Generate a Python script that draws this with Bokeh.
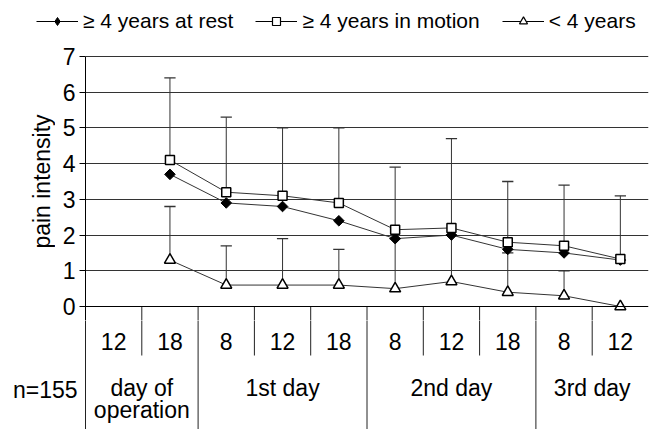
import math
from bokeh.plotting import figure
from bokeh.layouts import column, row
from bokeh.models import Range1d, FixedTicker, Span, Legend, LegendItem
from bokeh.core.properties import value
from bokeh.embed import file_html
from bokeh.resources import INLINE

nan = float("nan")

# ---- data ----
hours = ["12", "18", "8", "12", "18", "8", "12", "18", "8", "12"]
days = ["day of\noperation", "1st day", "2nd day", "3rd day"]
day_spans = [2, 3, 3, 2]
rest = [nan, 3.7, 2.9, 2.8, 2.4, 1.9, 2.0, 1.6, 1.5, 1.3]
motion = [nan, 4.1, 3.2, 3.1, 2.9, 2.15, 2.2, 1.8, 1.7, 1.33]
motion_err_top = [nan, 6.4, 5.3, 5.0, 5.0, 3.9, 4.7, 3.5, 3.4, 3.1]
under4 = [nan, 1.3, 0.6, 0.6, 0.6, 0.5, 0.7, 0.4, 0.3, 0.0]
under4_err_top = [nan, 2.8, 1.7, 1.9, 1.6, 1.9, 2.0, 1.5, 1.0, nan]
n_label = "n=155"
y_label = "pain intensity"
y_ticks = [0, 1, 2, 3, 4, 5, 6, 7]
legend_labels = ["\u2265 4 years at rest", "\u2265 4 years in motion", "< 4 years"]

FONT = "Liberation Sans"
W, H = 649, 429
LEG_H = 40            # legend strip height
CH_BOT = 320          # chart strip bottom (canvas px)
CH_H = CH_BOT - LEG_H
TAB_H = H - CH_BOT
LAB_W = 55            # y-label strip width
LEFT = 85             # frame left edge (canvas px)
RIGHT_PAD = 1
PXU = 250 / 7.0       # px per y unit (7 at y=56, 0 at y=306)
Y0PX = 306.0
NCOL = len(hours)
XPX = (W - RIGHT_PAD - LEFT) / NCOL
LINE = "#333333"
SEP = "#222222"


def py(pix):
    """canvas pixel row -> data y"""
    return (Y0PX - pix) / PXU


def bare(fig):
    fig.outline_line_color = None
    fig.grid.visible = False
    fig.background_fill_color = "white"
    fig.border_fill_color = "white"
    return fig


# ---------------- chart figure ----------------
yr = Range1d(py(CH_BOT), py(LEG_H))
p = figure(width=W - LAB_W, height=CH_H, output_backend="svg", toolbar_location=None,
           x_range=Range1d(0, NCOL), y_range=yr, x_axis_location=None,
           min_border_left=LEFT - LAB_W, min_border_right=RIGHT_PAD,
           min_border_top=0, min_border_bottom=0)
p.outline_line_color = None
p.background_fill_color = "white"
p.xgrid.visible = False
p.ygrid.ticker = FixedTicker(ticks=y_ticks[1:])
p.ygrid.grid_line_color = LINE
p.ygrid.grid_line_width = 1

ax = p.yaxis[0]
ax.ticker = FixedTicker(ticks=y_ticks)
ax.bounds = (yr.start, y_ticks[-1])
ax.axis_line_color = "black"
ax.major_tick_out = 6
ax.major_tick_in = 0
ax.minor_tick_line_color = None
ax.major_label_standoff = 4
ax.major_label_text_font = FONT
ax.major_label_text_font_size = "23px"
ax.major_label_text_color = "black"

p.add_layout(Span(location=0, dimension="width", line_color="black", line_width=1))

xs = [i + 0.5 for i in range(NCOL)]


def errbars(vals, tops):
    sx, sy0, sy1, cx0, cx1, cy = [], [], [], [], [], []
    for x, v, t in zip(xs, vals, tops):
        if math.isnan(v) or math.isnan(t):
            continue
        sx.append(x); sy0.append(v); sy1.append(t)
        cx0.append(x - 0.1); cx1.append(x + 0.1); cy.append(t)
    p.segment(x0=sx, y0=sy0, x1=sx, y1=sy1, line_color=LINE, line_width=1)
    p.segment(x0=cx0, y0=cy, x1=cx1, y1=cy, line_color=LINE, line_width=1.3)


# category boundaries (part inside the chart strip)
day_starts = [0]
for s in day_spans:
    day_starts.append(day_starts[-1] + s)
bx = list(range(1, NCOL))
p.segment(x0=bx, y0=[0] * len(bx), x1=bx, y1=[yr.start] * len(bx), line_color=SEP, line_width=1)

errbars(motion, motion_err_top)
errbars(under4, under4_err_top)

p.line(xs, rest, line_color=LINE, line_width=1)
p.line(xs, motion, line_color=LINE, line_width=1)
p.line(xs, under4, line_color=LINE, line_width=1)
p.scatter(xs, rest, marker="square", angle=math.pi / 4, size=7.5, fill_color="black", line_color="black")
p.scatter(xs, motion, marker="square", size=9, fill_color="white", line_color="black", line_width=1.5)
p.scatter(xs, under4, marker="triangle", size=11, fill_color="white", line_color="black", line_width=1.5)

# ---------------- y label strip ----------------
fa = bare(figure(width=LAB_W, height=CH_H, output_backend="svg", toolbar_location=None,
                 x_range=Range1d(0, LAB_W), y_range=yr, x_axis_location=None,
                 y_axis_location=None, min_border_left=0, min_border_right=0,
                 min_border_top=0, min_border_bottom=0))
fa.text(x=[41], y=[3.5], text=[y_label], angle=math.pi / 2, text_align="center",
        text_baseline="middle", text_font=value(FONT), text_font_size="23px",
        text_color="black")

# ---------------- category table strip ----------------
fc = bare(figure(width=W, height=TAB_H, output_backend="svg", toolbar_location=None,
                 x_range=Range1d(-LEFT / XPX, NCOL), y_range=Range1d(py(H), py(CH_BOT)),
                 x_axis_location=None, y_axis_location=None, min_border_left=0,
                 min_border_right=RIGHT_PAD, min_border_top=0, min_border_bottom=0))
ytop = py(CH_BOT) + 0.05
ybot = py(H)
hour_bottom = py(355)
for i in range(0, NCOL):
    y1 = ybot if i in day_starts else hour_bottom
    fc.segment(x0=[i], y0=[ytop], x1=[i], y1=[y1], line_color=SEP, line_width=1)

fc.text(x=xs, y=[py(340.5)] * NCOL, text=hours, text_align="center",
        text_baseline="middle", text_font=value(FONT), text_font_size="23px",
        text_color="black")
dx, dy, dt = [], [], []
for k, name in enumerate(days):
    cx = (day_starts[k] + day_starts[k + 1]) / 2
    for j, line in enumerate(name.split("\n")):
        dx.append(cx); dy.append(py(387 + 22 * j)); dt.append(line)
fc.text(x=dx, y=dy, text=dt, text_align="center", text_baseline="middle",
        text_font=value(FONT), text_font_size="23px", text_color="black")
fc.text(x=[-8 / XPX], y=[py(389)], text=[n_label], text_align="right",
        text_baseline="middle", text_font=value(FONT), text_font_size="23px",
        text_color="black")

# ---------------- legend strip ----------------
fl = bare(figure(width=W, height=LEG_H, output_backend="svg", toolbar_location=None,
                 x_range=Range1d(0, W), y_range=Range1d(0, LEG_H),
                 x_axis_location=None, y_axis_location=None, min_border_left=0,
                 min_border_right=0, min_border_top=0, min_border_bottom=0))
ox, oy = [-100], [-100]   # off-screen anchors for legend-only renderers
l1 = fl.line(ox, oy, line_color="black", line_width=1)
m1 = fl.scatter(ox, oy, marker="diamond", size=11, fill_color="black", line_color="black")
l2 = fl.line(ox, oy, line_color="black", line_width=1)
m2 = fl.scatter(ox, oy, marker="square", size=7, fill_color="white", line_color="black", line_width=1.2)
l3 = fl.line(ox, oy, line_color="black", line_width=1)
m3 = fl.scatter(ox, oy, marker="triangle", size=8, fill_color="white", line_color="black", line_width=1.2)
legend = Legend(items=[LegendItem(label=legend_labels[0], renderers=[l1, m1]),
                       LegendItem(label=legend_labels[1], renderers=[l2, m2]),
                       LegendItem(label=legend_labels[2], renderers=[l3, m3])],
                orientation="horizontal", location=(36, 7),
                glyph_width=42, glyph_height=20, label_standoff=5, spacing=22,
                padding=0, margin=0, border_line_color=None,
                background_fill_alpha=0, label_text_font=FONT,
                label_text_font_size="21px", label_text_color="black")
fl.add_layout(legend, "center")

root = column(fl, row(fa, p, spacing=0), fc, spacing=0)
open("out.html", "w").write(file_html(root, INLINE))
